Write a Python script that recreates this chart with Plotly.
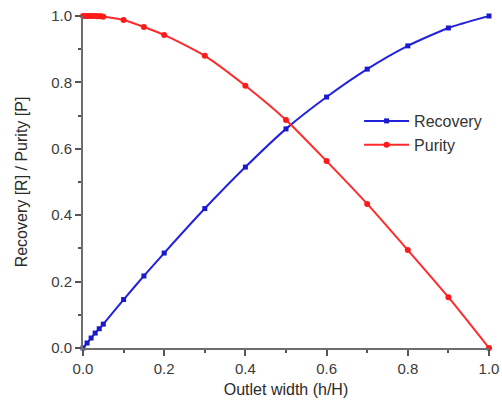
import plotly.graph_objects as go

# Outlet width h/H
width_rec = [0.0, 0.01, 0.02, 0.03, 0.04, 0.05, 0.1, 0.15, 0.2, 0.3, 0.4, 0.5, 0.6, 0.7, 0.8, 0.9, 1.0]
recovery = [0.0, 0.015, 0.03, 0.045, 0.058, 0.072, 0.146, 0.217, 0.286, 0.42, 0.545, 0.66, 0.756, 0.84, 0.91, 0.964, 1.0]

width_pur = [0.0, 0.005, 0.01, 0.015, 0.02, 0.025, 0.03, 0.035, 0.04, 0.045, 0.05, 0.1, 0.15, 0.2, 0.3, 0.4, 0.5, 0.6, 0.7, 0.8, 0.9, 1.0]
purity = [1.0, 1.0, 1.0, 1.0, 0.9999, 0.9998, 0.9997, 0.9995, 0.9993, 0.999, 0.998, 0.988, 0.967, 0.943, 0.88, 0.79, 0.687, 0.563, 0.434, 0.295, 0.153, 0.0]

tick_vals = [0.0, 0.2, 0.4, 0.6, 0.8, 1.0]
FONT = "Liberation Sans, Arial, sans-serif"

fig = go.Figure()
fig.add_trace(go.Scatter(
    x=width_rec, y=recovery, name="Recovery", mode="lines+markers",
    line=dict(color="#2222dd", width=2, shape="spline", smoothing=0.6),
    marker=dict(color="#1a1acc", size=5, symbol="square"),
    cliponaxis=False,
))
fig.add_trace(go.Scatter(
    x=width_pur, y=purity, name="Purity", mode="lines+markers",
    line=dict(color="#ff2a2a", width=2, shape="spline", smoothing=0.6),
    marker=dict(color="#ff1a1a", size=6, symbol="circle"),
    cliponaxis=False,
))

axis_common = dict(
    range=[0, 1], tickvals=tick_vals, tickformat=".1f",
    showgrid=False, zeroline=False, automargin=False,
    showline=True, linecolor="#6e6e6e", linewidth=2,
    ticks="outside", ticklen=6, tickwidth=1.5, tickcolor="#555555",
    minor=dict(ticks="outside", ticklen=3, dtick=0.1, tick0=0, tickcolor="#555555", tickwidth=1.5),
    tickfont=dict(family=FONT, size=15, color="#3a3a3a"),
    title_font=dict(family=FONT, size=16, color="#2a2a2a"),
)

fig.update_xaxes(**axis_common, title_text="Outlet width (h/H)", title_standoff=8)
fig.update_yaxes(**axis_common, title_text="Recovery [R] / Purity [P]", title_standoff=20)

fig.update_layout(
    width=502, height=405,
    margin=dict(l=83, r=13, t=16, b=57),
    paper_bgcolor="white", plot_bgcolor="white",
    showlegend=True,
    legend=dict(
        x=0.68, y=0.735, xanchor="left", yanchor="top",
        bgcolor="rgba(0,0,0,0)",
        font=dict(family=FONT, size=16, color="#333333"),
        tracegroupgap=0, itemwidth=45,
    ),
)

fig.write_html("out.html")
